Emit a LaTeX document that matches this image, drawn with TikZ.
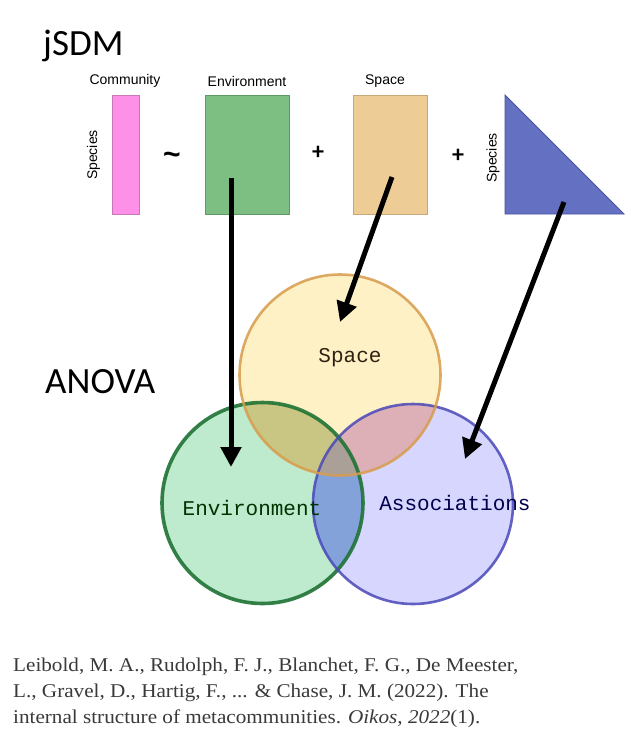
\documentclass[tikz,border=0pt]{standalone}
\usepackage{fontspec}
\setmainfont{Liberation Serif}
\newfontfamily\labfont{Liberation Sans}
\newfontfamily\bigfont{Carlito}
\newfontfamily\monofont{Liberation Mono}
\usetikzlibrary{arrows.meta}
\definecolor{pinkf}{HTML}{FF90E8}
\definecolor{pinkd}{HTML}{C878B8}
\definecolor{greenf}{HTML}{7DBE83}
\definecolor{greend}{HTML}{5E9A64}
\definecolor{tanf}{HTML}{EDCC95}
\definecolor{tand}{HTML}{C8A878}
\definecolor{trif}{HTML}{6470C2}
\definecolor{trid}{HTML}{4A52A0}
\definecolor{envf}{HTML}{BEEBCD}
\definecolor{envd}{HTML}{1F7335}
\definecolor{spf}{HTML}{FFF1C6}
\definecolor{spd}{HTML}{D89C4C}
\definecolor{asf}{HTML}{D6D6FF}
\definecolor{asd}{HTML}{4A48B8}
\definecolor{es}{HTML}{C8C682}
\definecolor{sa}{HTML}{DCB0B6}
\definecolor{ea}{HTML}{84A2DA}
\definecolor{esa}{HTML}{AAA098}
\definecolor{cite}{HTML}{3A3A3A}
\tikzset{
  lab/.style={font=\labfont\fontsize{14}{16}\selectfont, inner sep=0pt},
  big/.style={font=\bigfont\fontsize{37}{42}\selectfont, inner sep=0pt, anchor=base west},
  op/.style={font=\bigfont\bfseries\fontsize{24}{26}\selectfont, inner sep=0pt},
  vlab/.style={font=\monofont\fontsize{21}{24}\selectfont, inner sep=0pt},
  citeline/.style={font=\fontsize{19.5}{22}\selectfont, text=cite, inner sep=0pt, anchor=base west},
  bigarrow/.style={line width=5pt, -{Triangle[width=20pt,length=20pt]}},
}
\newcommand{\citew}[1]{\scalebox{1.085}[1]{#1}}
\begin{document}
\begin{tikzpicture}[x=1pt,y=-1pt]
\useasboundingbox (0,0) rectangle (630,729);
\fill[white] (0,0) rectangle (630,729);

% titles
\node[big] (jsdm) at (43,55) {jSDM};
\node[big] (anova) at (45,393) {ANOVA};

% top matrices
\node[lab] (lcom) at (125,81) {Community};
\node[lab] (lenv) at (247,81) {Environment};
\node[lab] (lspa) at (385,81) {Space};
\draw[pinkd, fill=pinkf, line width=0.8pt] (112,95) rectangle (139,214);
\node[lab, rotate=90] (sp1) at (93.5,155) {Species};
\node[op, font=\labfont\bfseries\fontsize{30}{30}\selectfont] (tilde) at (172,158) {\~{}};
\draw[greend, fill=greenf, line width=0.8pt] (205,95) rectangle (289,214);
\node[op] (plus1) at (318,153) {+};
\draw[tand, fill=tanf, line width=0.8pt] (353,95) rectangle (427,214);
\node[op] (plus2) at (458,156) {+};
\node[lab, rotate=90] (sp2) at (493,158) {Species};
\draw[trid, fill=trif, line width=0.8pt] (505,95) -- (505,214) -- (624,214) -- cycle;

% venn
\def\envc{(262.5,503) circle[radius=100.5]}
\def\spac{(340,375) circle[radius=100.5]}
\def\assc{(413,504) circle[radius=100]}
\fill[envf] \envc;
\fill[asf] \assc;
\fill[spf] \spac;
\begin{scope}\clip \envc; \fill[es] \spac; \fill[ea] \assc; \end{scope}
\begin{scope}\clip \spac; \fill[sa] \assc; \end{scope}
\begin{scope}\clip \envc; \clip \spac; \fill[esa] \assc; \end{scope}
\draw[envd, line width=3.6pt, draw opacity=0.9] \envc;
\draw[asd, line width=2.6pt, draw opacity=0.85] \assc;
\draw[spd, line width=2.6pt, draw opacity=0.85] \spac;

\node[vlab, text=black!75!brown] (vsp) at (350,358) {Space};
\node[vlab, text=black!80!green] (venv) at (252,508) {Environment};
\node[vlab, text=black!70!blue] (vas) at (455,503) {Associations};

% arrows
\coordinate (a1s) at (231,178);
\coordinate (a1e) at (231,467);
\coordinate (a2s) at (392,177);
\coordinate (a2e) at (340,322);
\coordinate (a3s) at (564,202);
\coordinate (a3e) at (465,459);
\draw[bigarrow] (a1s) -- (a1e);
\draw[bigarrow] (a2s) -- (a2e);
\draw[bigarrow] (a3s) -- (a3e);

% citation
\node[citeline] (c1) at (13,671) {\citew{Leibold, M. A., Rudolph, F. J., Blanchet, F. G., De Meester,}};
\node[citeline] (c2) at (13,697) {\citew{L., Gravel, D., Hartig, F., ... \& Chase, J. M. (2022). The}};
\node[citeline] (c3) at (13,723) {\citew{internal structure of metacommunities. \textit{Oikos}, \textit{2022}(1).}};
\end{tikzpicture}
\end{document}
